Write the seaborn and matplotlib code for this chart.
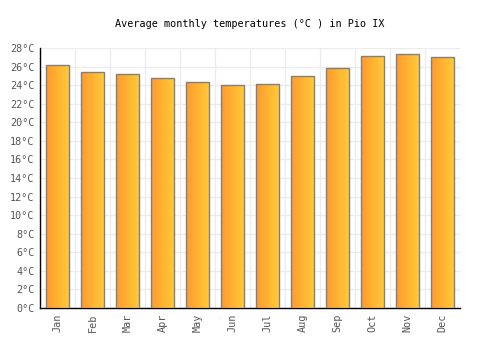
import numpy as np
import pandas as pd
import matplotlib
matplotlib.use("Agg")
import matplotlib.pyplot as plt
import seaborn as sns
from matplotlib.colors import LinearSegmentedColormap

# Data
months = ["Jan", "Feb", "Mar", "Apr", "May", "Jun", "Jul", "Aug", "Sep", "Oct", "Nov", "Dec"]
temps = [26.2, 25.4, 25.2, 24.8, 24.3, 24.0, 24.1, 25.0, 25.8, 27.1, 27.3, 27.0]
y_ticks = list(range(0, 29, 2))

df = pd.DataFrame({"month": months, "temp": temps})

sns.set_style("white")
plt.rcParams["font.family"] = ["DejaVu Sans Mono"]

fig = plt.figure(figsize=(5, 3.5), dpi=100)
ax = fig.add_axes([0.08, 0.12, 0.84, 0.743])

sns.barplot(data=df, x="month", y="temp", ax=ax, width=0.67,
            color="#ffb030", edgecolor="#808080", linewidth=1.0, zorder=3)

# gradient fill clipped to each bar
grad = LinearSegmentedColormap.from_list("g", ["#ff9a2e", "#ffcc38"])
row = np.linspace(0, 1, 64).reshape(1, -1)
for p in ax.patches:
    x0, y0 = p.get_x(), p.get_y()
    w, h = p.get_width(), p.get_height()
    im = ax.imshow(row, cmap=grad, extent=[x0, x0 + w, y0, y0 + h],
                   aspect="auto", zorder=3.5, interpolation="bilinear")
    im.set_clip_path(p)
    p.set_zorder(4)
    p.set_facecolor("none")

ax.set_xlim(-0.5, len(months) - 0.5)
ax.set_ylim(0, 28)
ax.set_yticks(y_ticks)
ax.set_yticklabels([f"{t}°C" for t in y_ticks])
ax.set_xticks(range(len(months)))
ax.set_xticklabels(months, rotation=90)
ax.set_xticks(np.arange(-0.5, len(months), 1), minor=True)

ax.grid(False)
ax.grid(axis="y", which="major", color="#ececec", linewidth=1, zorder=0)
ax.grid(axis="x", which="minor", color="#ececec", linewidth=1, zorder=0)
ax.tick_params(axis="both", which="both", length=0, labelsize=7.3,
               labelcolor="#555555", pad=4)

for s in ["top", "right"]:
    ax.spines[s].set_visible(False)
ax.spines["left"].set_color("black")
ax.spines["bottom"].set_color("black")
ax.spines["left"].set_linewidth(1)
ax.spines["bottom"].set_linewidth(1)

ax.set_xlabel("")
ax.set_ylabel("")
fig.suptitle("Average monthly temperatures (°C ) in Pio IX", y=0.945,
             fontsize=7.3, color="black")

fig.savefig("out.png", dpi=100)
